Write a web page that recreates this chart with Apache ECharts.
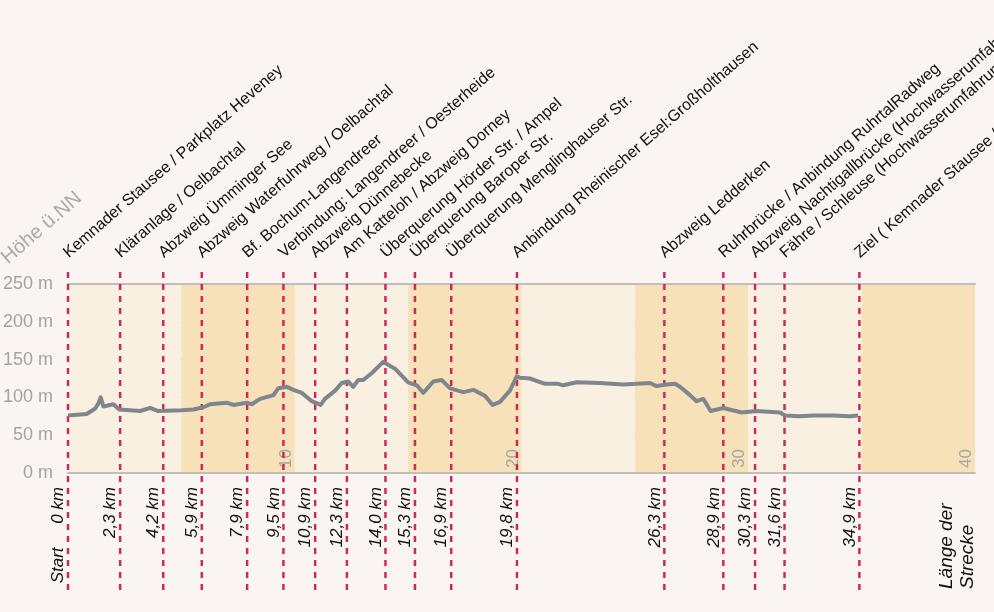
<!DOCTYPE html>
<html>
<head>
<meta charset="utf-8">
<script src="https://cdn.jsdelivr.net/npm/echarts@6/dist/echarts.min.js"></script>
<style>
  html, body { margin: 0; padding: 0; background: #faf5f2; }
  #chart { width: 994px; height: 612px; }
</style>
</head>
<body>
<div id="chart"></div>
<script>
// Höhenprofil der Strecke
const elevKm = [0, 0.82, 1.19, 1.34, 1.44, 1.56, 2.0, 2.26, 3.18, 3.62, 3.98, 5.01, 5.53, 5.97, 6.26, 7.0,
  7.29, 7.88, 8.1, 8.47, 9.06, 9.27, 9.65, 9.94, 10.31, 10.75, 11.14, 11.33, 11.78, 12.07, 12.36,
  12.58, 12.8, 13.02, 13.39, 13.9, 14.42, 15.0, 15.38, 15.67, 16.11, 16.48, 16.85, 17.43, 17.87,
  18.39, 18.73, 19.05, 19.49, 19.79, 19.93, 20.37, 21.04, 21.62, 21.84, 22.43, 23.46, 24.49, 25.67,
  25.96, 26.4, 26.77, 26.99, 27.43, 27.72, 28.02, 28.34, 28.9, 29.71, 30.37, 31.4, 31.62, 32.28,
  32.87, 33.75, 34.49, 34.85];
const elevM = [76, 78, 85, 92, 100, 88, 91, 84, 82, 86, 82, 83, 84, 87, 91, 93,
  90, 93, 91, 98, 103, 112, 114, 110, 106, 95, 90, 98, 109, 119, 121,
  114, 123, 123, 132, 147, 138, 120, 116, 106, 121, 123, 112, 107, 110,
  102, 90, 94, 109, 128, 126, 125, 118, 118, 116, 120, 119, 117, 119,
  115, 117, 118, 114, 103, 95, 98, 82, 86, 80, 82, 80, 76, 75,
  76, 76, 75, 76];

// Wegpunkte
const waypointKm = [0, 2.3, 4.2, 5.9, 7.9, 9.5, 10.9, 12.3, 14.0, 15.3, 16.9, 19.8, 26.3, 28.9, 30.3, 31.6, 34.9];
const waypointNames = [
  'Kemnader Stausee / Parkplatz Heveney',
  'Kläranlage / Oelbachtal',
  'Abzweig Ümminger See',
  'Abzweig Waterfuhrweg / Oelbachtal',
  'Bf. Bochum-Langendreer',
  'Verbindung: Langendreer / Oesterheide',
  'Abzweig Dünnebecke',
  'Am Katteloh / Abzweig Dorney',
  'Überquerung Hörder Str. / Ampel',
  'Überquerung Baroper Str.',
  'Überquerung Menglinghauser Str.',
  'Anbindung Rheinischer Esel:Großholthausen',
  'Abzweig Ledderken',
  'Ruhrbrücke / Anbindung RuhrtalRadweg',
  'Abzweig Nachtigallbrücke (Hochwasserumfahrung)',
  'Fähre / Schleuse (Hochwasserumfahrung)',
  'Ziel ( Kemnader Stausee / Parkplatz Heveney )'
];

const xTicks = [0, 5, 10, 15, 20, 25, 30, 35, 40];
const yTicks = [0, 50, 100, 150, 200, 250];

const FONT = 'Liberation Sans, Arial, sans-serif';
const RED = '#cc2a5a';
const DEG = Math.PI / 180;

// Beschriftung unten, z.B. "2,3 km"
const kmLabel = (km, i) => {
  const t = `${km.toFixed(1).replace('.', ',')} km`;
  return i === 0 ? `Start     ${km} km` : t;
};

const chart = echarts.init(document.getElementById('chart'));

const option = {
  backgroundColor: '#faf5f2',
  animation: false,
  grid: [
    { left: 68, right: 19, top: 284, bottom: 139 },
    { left: 68, right: 19, top: 266, bottom: 22 },
  ],
  xAxis: [
    {
      type: 'value',
      gridIndex: 0,
      min: xTicks[0],
      max: xTicks[xTicks.length - 1],
      interval: 5,
      axisLine: { show: true, lineStyle: { color: '#c3beb8', width: 2 } },
      axisTick: { show: false },
      splitLine: { show: false },
      splitArea: { show: true, areaStyle: { color: ['#f9f0e1', '#f7e1b8'] } },
      axisLabel: {
        inside: true,
        rotate: 90,
        margin: 5,
        align: 'left',
        verticalAlign: 'bottom',
        color: '#a5a5a5',
        fontFamily: FONT,
        fontSize: 17,
        showMinLabel: false,
        formatter: v => (v % 10 === 0 && v > 0 ? String(v) : ''),
      },
    },
    {
      type: 'value',
      gridIndex: 0,
      position: 'top',
      min: 0,
      max: 40,
      axisLine: { show: true, lineStyle: { color: '#c3beb8', width: 2 } },
      axisTick: { show: false },
      axisLabel: { show: false },
      splitLine: { show: false },
    },
    {
      type: 'value',
      gridIndex: 1,
      min: 0,
      max: 40,
      show: false,
    },
  ],
  yAxis: [
    {
      type: 'value',
      gridIndex: 0,
      min: yTicks[0],
      max: yTicks[yTicks.length - 1],
      interval: 50,
      axisLine: { show: false },
      axisTick: { show: false },
      axisLabel: {
        margin: 15,
        color: '#a3a3a3',
        fontFamily: FONT,
        fontSize: 18,
        formatter: '{value} m',
      },
      splitLine: {
        show: true,
        lineStyle: { color: ['#c3beb8', '#a39e98', '#a39e98', '#a39e98', '#a39e98', '#c3beb8'], width: 1 },
      },
    },
    {
      type: 'value',
      gridIndex: 1,
      min: 0,
      max: 1,
      show: false,
    },
  ],
  graphic: [
    {
      type: 'text',
      x: 11,
      y: 268,
      rotation: 41 * DEG,
      style: {
        text: 'Höhe ü.NN',
        fill: '#aaaaaa',
        font: `20px ${FONT}`,
        align: 'left',
        verticalAlign: 'bottom',
      },
    },
    {
      type: 'text',
      x: 978,
      y: 589,
      rotation: 90 * DEG,
      style: {
        text: 'Länge der\nStrecke',
        fill: '#111',
        font: `italic 19px ${FONT}`,
        lineHeight: 21,
        align: 'left',
        verticalAlign: 'bottom',
      },
    },
  ],
  series: [
    {
      // gestrichelte Linien + Beschriftungen der Wegpunkte
      type: 'custom',
      xAxisIndex: 2,
      yAxisIndex: 1,
      clip: false,
      z: 2,
      data: waypointKm.map((km, i) => [km, i]),
      renderItem: (params, api) => {
        const km = api.value(0);
        const i = api.value(1);
        const p0 = api.coord([km, 0]);
        const p1 = api.coord([km, 1]);
        return {
          type: 'group',
          children: [
            {
              type: 'line',
              shape: { x1: p0[0], y1: p0[1], x2: p1[0], y2: p1[1] },
              style: { stroke: RED, lineWidth: 2.5, lineDash: [6, 6] },
            },
            {
              type: 'text',
              x: p1[0] + 3,
              y: p1[1] - 5,
              rotation: 41 * DEG,
              style: {
                text: waypointNames[i],
                fill: '#111',
                font: `16px ${FONT}`,
                align: 'left',
                verticalAlign: 'bottom',
              },
            },
            {
              type: 'text',
              x: p0[0] - 1,
              y: 487,
              rotation: 90 * DEG,
              style: {
                text: kmLabel(km, i),
                fill: '#111',
                font: `italic 17px ${FONT}`,
                align: 'right',
                verticalAlign: 'bottom',
              },
            },
          ],
        };
      },
    },
    {
      name: 'Höhe',
      type: 'line',
      xAxisIndex: 0,
      yAxisIndex: 0,
      z: 5,
      showSymbol: false,
      data: elevKm.map((km, i) => [km, elevM[i]]),
      lineStyle: { color: '#80868d', width: 4, join: 'round' },
    },
  ],
};

chart.setOption(option);
</script>
</body>
</html>
